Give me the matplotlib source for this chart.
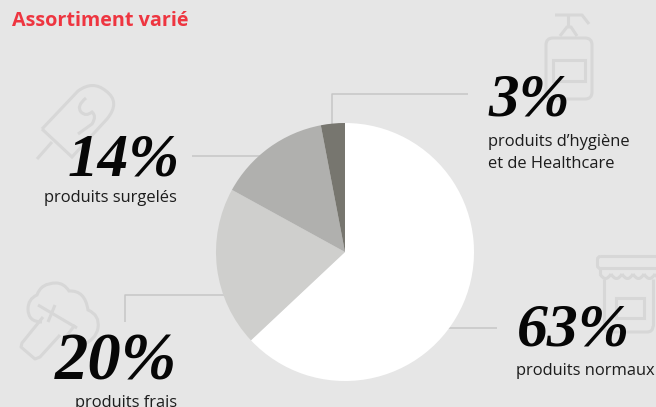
import matplotlib
matplotlib.use("Agg")
import matplotlib.pyplot as plt
from matplotlib.patches import FancyBboxPatch, Rectangle
from matplotlib.path import Path
from matplotlib.patches import PathPatch

# ***** data
categories = ["produits normaux", "produits frais", "produits surgelés",
              "produits d’hygiène\net de Healthcare"]
shares = [63, 20, 14, 3]
slice_colors = ["#ffffff", "#cfcfcd", "#b0b0ae", "#77766f"]

BG = "#e6e6e6"
ICON = "#d7d7d7"
LEADER = "#c6c6c6"

fig = plt.figure(figsize=(6.56, 4.07), dpi=100, facecolor=BG)
ax = fig.add_axes([0, 0, 1, 1])
ax.set_facecolor(BG)
ax.set_xlim(0, 656)
ax.set_ylim(407, 0)
ax.axis("off")


def stroke(pts, lw=2.2, color=ICON):
    xs = [p[0] for p in pts]
    ys = [p[1] for p in pts]
    ax.plot(xs, ys, color=color, lw=lw, solid_capstyle="butt",
            solid_joinstyle="round", zorder=1)


def curve(verts, codes, lw=2.2):
    ax.add_patch(PathPatch(Path(verts, codes), fc="none", ec=ICON, lw=lw, zorder=1))


M, L, C = Path.MOVETO, Path.LINETO, Path.CURVE3

# ***** icons
# popsicle
curve([(42, 129), (72, 157), (107, 119), (121, 102), (106, 91), (93, 80), (78, 91), (42, 129)],
      [M, L, L, C, C, C, C, L])
stroke([(52, 142), (37, 159)])
curve([(86, 98), (76, 106), (81, 112), (86, 117), (92, 112), (97, 116), (92, 124), (78, 134)],
      [M, C, C, C, C, C, C, L])

# broccoli
curve([(42, 322), (28, 322), (28, 309), (28, 299), (37, 295), (41, 283), (56, 283),
       (64, 283), (69, 291), (85, 290), (88, 310), (100, 315), (98, 328), (96, 340), (82, 345)],
      [M, C, C, C, C, C, C, C, C, C, C, C, C, C, C])
stroke([(43, 317), (22, 343), (21, 347), (35, 359), (40, 357), (60, 335)])
stroke([(38, 305), (77, 328)])
stroke([(55, 305), (48, 322)])
stroke([(75, 325), (65, 338)])

# bottle
ax.add_patch(FancyBboxPatch((548, 40), 42, 57, boxstyle="round,pad=2,rounding_size=7",
                            fc="none", ec=ICON, lw=2.2, zorder=1))
ax.add_patch(Rectangle((553, 60), 32, 21, fc="none", ec=ICON, lw=2.2, zorder=1))
stroke([(560, 36), (567, 27), (571, 27), (577, 36)])
stroke([(568, 15), (568, 27)])
stroke([(555, 15), (582, 15), (589, 24)])

# jar
ax.add_patch(FancyBboxPatch((599, 258), 70, 9, boxstyle="round,pad=1.5,rounding_size=3",
                            fc="none", ec=ICON, lw=2.2, zorder=1))
stroke([(600, 268), (600, 274)])
stroke([(604, 279), (604, 326)])
stroke([(653, 279), (653, 326)])
curve([(604, 326), (604, 332), (610, 332), (647, 332), (653, 332), (653, 326)],
      [M, C, C, L, C, C])
for x0 in range(600, 656, 11):
    curve([(x0, 274), (x0 + 5.5, 283), (x0 + 11, 274)], [M, C, C])
ax.add_patch(Rectangle((616, 298), 28, 20, fc="none", ec=ICON, lw=2.2, zorder=1))

# ***** leader lines
stroke([(192, 156), (290, 156)], lw=1.1, color=LEADER)
stroke([(125, 322), (125, 295), (235, 295)], lw=1.1, color=LEADER)
stroke([(332, 125), (332, 94), (468, 94)], lw=1.1, color=LEADER)
stroke([(440, 328), (497, 328)], lw=1.1, color=LEADER)

# ***** pie, y axis is flipped so counterclock=True runs clockwise on screen
ax.pie(shares, colors=slice_colors, startangle=-90, counterclock=True,
       center=(345, 252), radius=129, frame=False,
       wedgeprops={"zorder": 2, "lw": 0})
ax.set_xlim(0, 656)
ax.set_ylim(407, 0)
ax.set_aspect("auto")

# ***** text
ax.text(12, 26, "Assortiment varié", color="#ee3540", fontsize=14.2,
        fontweight="bold", family="Open Sans", zorder=5)

big = {"family": "Liberation Serif", "style": "italic", "fontweight": "bold",
       "color": "#060606", "zorder": 5}
small = {"family": "Open Sans", "fontsize": 11.9, "color": "#1c1c1c", "zorder": 5}

big_pos = [(517, 346), (55, 380), (68, 175), (488, 115)]
big_size = [44.5, 48, 44, 44]
small_pos = [(516, 375), (75, 407), (44, 202), (488, 146)]
for share, name, bp, bs, sp in zip(shares, categories, big_pos, big_size, small_pos):
    ax.text(bp[0], bp[1], f"{share}%", fontsize=bs, **big)
    for i, part in enumerate(name.split("\n")):
        ax.text(sp[0], sp[1] + 22 * i, part, clip_on=True, **small)

fig.savefig("out.png", dpi=100, facecolor=BG)
